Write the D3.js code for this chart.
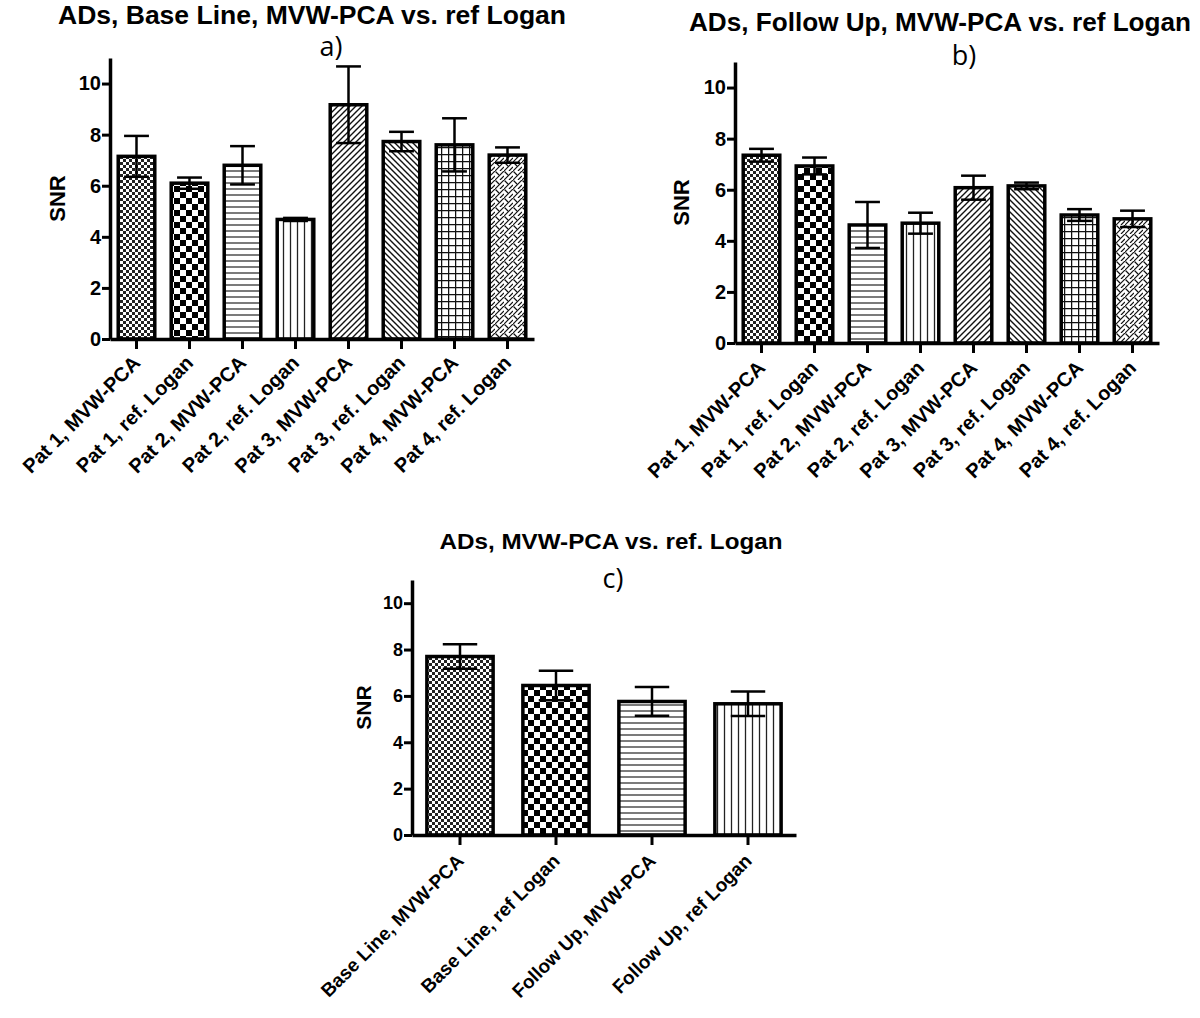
<!DOCTYPE html>
<html>
<head>
<meta charset="utf-8">
<script src="https://cdn.jsdelivr.net/npm/d3@7"></script>
<style>
  body { margin: 0; background: #fff; }
  text { font-family: "Liberation Sans", Arial, sans-serif; font-weight: bold; fill: #000; }
</style>
</head>
<body>
<svg id="chart" width="1200" height="1018"></svg>
<script>
// ---- data ----
var patLabels = ["Pat 1, MVW-PCA", "Pat 1, ref. Logan", "Pat 2, MVW-PCA", "Pat 2, ref. Logan",
                 "Pat 3, MVW-PCA", "Pat 3, ref. Logan", "Pat 4, MVW-PCA", "Pat 4, ref. Logan"];
var baseLineMeans = [7.15, 6.1, 6.8, 4.68, 9.17, 7.73, 7.6, 7.2];
var baseLineErrs  = [0.8, 0.22, 0.75, 0.06, 1.5, 0.38, 1.04, 0.3];
var followUpMeans = [7.35, 6.93, 4.62, 4.69, 6.08, 6.15, 5.01, 4.86];
var followUpErrs  = [0.25, 0.33, 0.9, 0.41, 0.47, 0.13, 0.23, 0.32];
var pooledLabels = ["Base Line, MVW-PCA", "Base Line, ref Logan", "Follow Up, MVW-PCA", "Follow Up, ref Logan"];
var pooledMeans = [7.7, 6.45, 5.76, 5.66];
var pooledErrs  = [0.53, 0.64, 0.62, 0.53];
var yTicks = [0, 2, 4, 6, 8, 10];
var patternNames = ["fineCheck", "coarseCheck", "hLines", "vLines", "fwdDiag", "backDiag", "grid", "weave"];

var svg = d3.select("#chart");
svg.append("rect").attr("width", 1200).attr("height", 1018).attr("fill", "#fff");

// ---- fill patterns ----
var defs = svg.append("defs");
function pattern(id, size) {
  var p = defs.append("pattern").attr("id", id)
    .attr("patternUnits", "userSpaceOnUse")
    .attr("width", size).attr("height", size);
  p.append("rect").attr("width", size).attr("height", size).attr("fill", "#fff");
  return p;
}
var p1 = pattern("fineCheck", 6);
p1.append("rect").attr("width", 3).attr("height", 3).attr("fill", "#222");
p1.append("rect").attr("x", 3).attr("y", 3).attr("width", 3).attr("height", 3).attr("fill", "#222");

var p2 = pattern("coarseCheck", 12);
p2.append("rect").attr("width", 6).attr("height", 6).attr("fill", "#000");
p2.append("rect").attr("x", 6).attr("y", 6).attr("width", 6).attr("height", 6).attr("fill", "#000");

var p3 = pattern("hLines", 6);
p3.append("line").attr("x1", 0).attr("x2", 6).attr("y1", 3).attr("y2", 3).attr("stroke", "#222").attr("stroke-width", 1.2);

var p4 = pattern("vLines", 7);
p4.append("line").attr("y1", 0).attr("y2", 7).attr("x1", 3.5).attr("x2", 3.5).attr("stroke", "#222").attr("stroke-width", 1.3);

var p5 = pattern("fwdDiag", 6);
p5.append("path").attr("d", "M-1,7 L7,-1 M-1,1 L1,-1 M5,7 L7,5").attr("stroke", "#111").attr("stroke-width", 1.4);

var p6 = pattern("backDiag", 6);
p6.append("path").attr("d", "M-1,-1 L7,7 M5,-1 L7,1 M-1,5 L1,7").attr("stroke", "#111").attr("stroke-width", 1.4);

var p7 = pattern("grid", 7);
p7.append("path").attr("d", "M0,0.6 H7 M0.6,0 V7").attr("stroke", "#111").attr("stroke-width", 1.3);

var p8 = pattern("weave", 9);
p8.append("path").attr("d", "M-1,10 L10,-1 M0.5,0.5 L4,4 M5,9 L9,5").attr("stroke", "#111").attr("stroke-width", 1.2);

// ---- one panel ----
function drawPanel(cfg) {
  var g = svg.append("g");

  var x = d3.scaleBand()
    .domain(cfg.labels)
    .range([cfg.left, cfg.right])
    .paddingInner(cfg.pad)
    .paddingOuter(cfg.pad / 2);

  var y = d3.scaleLinear().domain([0, 11]).range([cfg.bottom, cfg.top]);

  var rows = cfg.labels.map(function(l, i) {
    return {label: l, mean: cfg.means[i], err: cfg.errs[i], pat: patternNames[i]};
  });

  // bars
  g.selectAll("rect.bar").data(rows).enter().append("rect")
    .attr("class", "bar")
    .attr("x", function(d) { return x(d.label); })
    .attr("width", x.bandwidth())
    .attr("y", function(d) { return y(d.mean); })
    .attr("height", function(d) { return y(0) - y(d.mean); })
    .attr("fill", function(d) { return "url(#" + d.pat + ")"; })
    .attr("stroke", "#000")
    .attr("stroke-width", 3.5);

  // error bars
  var capW = x.bandwidth() * cfg.cap;
  var eb = g.selectAll("g.err").data(rows).enter().append("g").attr("class", "err")
    .attr("stroke", "#000").attr("stroke-width", 2.5);
  eb.append("line")
    .attr("x1", function(d) { return x(d.label) + x.bandwidth() / 2; })
    .attr("x2", function(d) { return x(d.label) + x.bandwidth() / 2; })
    .attr("y1", function(d) { return y(d.mean - d.err); })
    .attr("y2", function(d) { return y(d.mean + d.err); });
  [1, -1].forEach(function(s) {
    eb.append("line")
      .attr("x1", function(d) { return x(d.label) + x.bandwidth() / 2 - capW / 2; })
      .attr("x2", function(d) { return x(d.label) + x.bandwidth() / 2 + capW / 2; })
      .attr("y1", function(d) { return y(d.mean + s * d.err); })
      .attr("y2", function(d) { return y(d.mean + s * d.err); });
  });

  // y axis
  var yAxis = g.append("g")
    .attr("transform", "translate(" + cfg.left + ",0)")
    .call(d3.axisLeft(y).tickValues(yTicks).tickSize(8).tickSizeOuter(0).tickPadding(1));
  yAxis.select(".domain").attr("stroke-width", 3.5);
  yAxis.selectAll(".tick line").attr("stroke-width", 3);
  yAxis.selectAll(".tick text").style("font-size", cfg.tickSize + "px").style("font-weight", "bold")
    .style("font-family", "'Liberation Sans', Arial, sans-serif");

  // x axis
  var xAxis = g.append("g")
    .attr("transform", "translate(0," + cfg.bottom + ")")
    .call(d3.axisBottom(x).tickSize(10).tickSizeOuter(0).tickPadding(4));
  xAxis.select(".domain").attr("stroke-width", 3.5);
  xAxis.selectAll(".tick line").attr("stroke-width", 3);
  xAxis.selectAll(".tick text")
    .style("font-size", cfg.labelSize + "px").style("font-weight", "bold")
    .style("font-family", "'Liberation Sans', Arial, sans-serif")
    .attr("text-anchor", "end")
    .attr("dy", 0)
    .attr("transform", "translate(" + cfg.labelDx + "," + cfg.labelDy + ") rotate(-45)")
    .attr("x", 0).attr("y", 0);

  // y label
  g.append("text")
    .attr("transform", "translate(" + cfg.yLabelX + "," + (cfg.top + cfg.bottom) / 2 + ") rotate(-90)")
    .attr("text-anchor", "middle")
    .style("font-size", cfg.yLabelSize + "px")
    .text("SNR");

  // title
  g.append("text")
    .attr("x", cfg.titleX).attr("y", cfg.titleY)
    .attr("text-anchor", "middle")
    .attr("textLength", cfg.titleW).attr("lengthAdjust", "spacingAndGlyphs")
    .style("font-size", cfg.titleSize + "px")
    .text(cfg.title);

  g.append("text")
    .attr("x", cfg.tagX).attr("y", cfg.tagY)
    .attr("text-anchor", "middle")
    .style("font-family", "'Open Sans', 'Noto Sans', sans-serif")
    .style("font-weight", "normal")
    .style("font-size", "27px")
    .text(cfg.tag);
}

drawPanel({
  labels: patLabels, means: baseLineMeans, errs: baseLineErrs,
  left: 110, right: 534, top: 58, bottom: 339, pad: 0.31, cap: 0.68,
  tickSize: 20, labelSize: 20, labelDx: 5, labelDy: 25, yLabelX: 65, yLabelSize: 22,
  title: "ADs, Base Line, MVW-PCA vs. ref Logan", titleX: 312, titleY: 24, titleW: 508, titleSize: 25,
  tag: "a)", tagX: 331, tagY: 56
});

drawPanel({
  labels: patLabels, means: followUpMeans, errs: followUpErrs,
  left: 735, right: 1159, top: 62, bottom: 343, pad: 0.31, cap: 0.68,
  tickSize: 20, labelSize: 20, labelDx: 5, labelDy: 26, yLabelX: 689, yLabelSize: 22,
  title: "ADs, Follow Up, MVW-PCA vs. ref Logan", titleX: 940, titleY: 31, titleW: 502, titleSize: 25,
  tag: "b)", tagX: 964, tagY: 65
});

drawPanel({
  labels: pooledLabels, means: pooledMeans, errs: pooledErrs,
  left: 412, right: 796, top: 580, bottom: 835, pad: 0.31, cap: 0.52,
  tickSize: 18, labelSize: 19, labelDx: 5, labelDy: 27, yLabelX: 371, yLabelSize: 21,
  title: "ADs, MVW-PCA vs. ref. Logan", titleX: 611, titleY: 549, titleW: 343, titleSize: 22,
  tag: "c)", tagX: 613, tagY: 588
});
</script>
</body>
</html>
